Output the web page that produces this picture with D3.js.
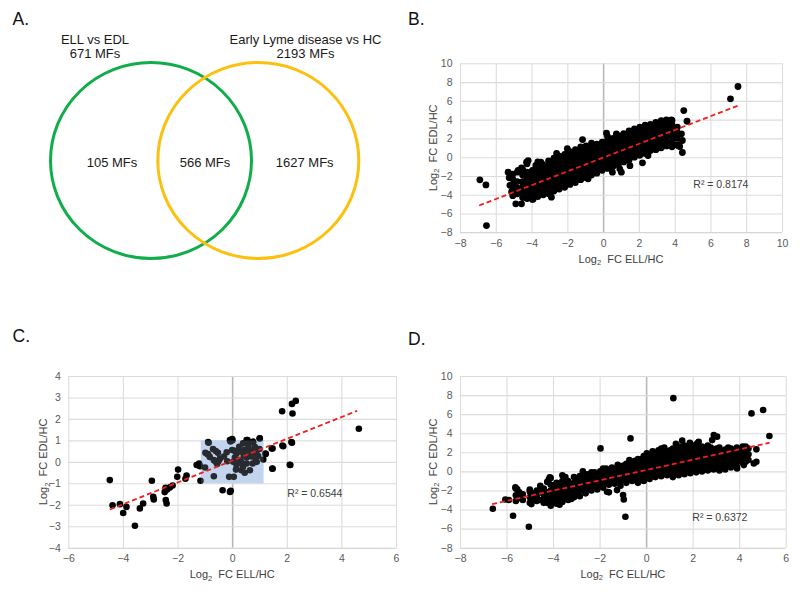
<!DOCTYPE html>
<html><head><meta charset="utf-8">
<script src="https://cdn.jsdelivr.net/npm/d3@7"></script>
<style>
body{margin:0;background:#fff}
svg{display:block}
text{font-family:"Liberation Sans",Arial,sans-serif}
</style>
</head><body>
<svg id="fig" width="800" height="594"></svg>
<script>
// ---------- data ----------
const panelLetters = ["A.", "B.", "C.", "D."];
const vennSetNames = ["ELL vs EDL", "Early Lyme disease vs HC"];
const vennSetTotals = ["671 MFs", "2193 MFs"];
const vennRegionLabels = ["105 MFs", "566 MFs", "1627 MFs"];

const xTitle = "ELL/HC";
const yTitle = "EDL/HC";

// Panel B
const bXTicks = [-8,-6,-4,-2,0,2,4,6,8,10];
const bYTicks = [-8,-6,-4,-2,0,2,4,6,8,10];
const bBandColumns = [
 [-5.05,[-4.1,-3.5,-2.9,-2.3,-1.8]],
 [-4.8,[-3.9,-3.3,-2.6,-1.6]],
 [-4.5,[-4.3,-3.7,-3.1,-2.6,-1.9,-1.3]],
 [-4.25,[-4.4,-3.8,-3.3,-2.8,-2.2,-1.6,-0.7]],
 [-3.95,[-4.5,-3.9,-3.4,-2.9,-2.4,-1.9,-1.4]],
 [-3.65,[-4.2,-3.7,-3.2,-2.7,-2.2,-1.7,-1.2,-0.5]],
 [-3.35,[-4.0,-3.5,-3.0,-2.5,-2.0,-1.5,-1.0]],
 [-3.05,[-3.9,-3.3,-2.8,-2.3,-1.8,-1.3,-0.8,-0.4]],
 [-2.75,[-3.6,-3.1,-2.6,-2.1,-1.6,-1.1,-0.6,-0.1]],
 [-2.45,[-3.4,-2.9,-2.4,-1.9,-1.4,-0.9,-0.4,0.1]],
 [-2.15,[-3.2,-2.6,-2.1,-1.6,-1.1,-0.6,-0.1,0.3]],
 [-1.85,[-2.9,-2.4,-1.9,-1.4,-0.9,-0.4,0.1,0.6]],
 [-1.55,[-2.7,-2.1,-1.6,-1.1,-0.6,-0.1,0.4,0.8]],
 [-1.25,[-2.4,-1.9,-1.4,-0.9,-0.4,0.1,0.6,1.1]],
 [-0.95,[-2.2,-1.7,-1.2,-0.7,-0.2,0.3,0.8,1.2]],
 [-0.65,[-1.9,-1.4,-0.9,-0.4,0.1,0.6,1.1,1.5]],
 [-0.35,[-1.7,-1.1,-0.6,-0.1,0.4,0.9,1.4]],
 [-0.05,[-1.4,-0.9,-0.4,0.1,0.6,1.1,1.6]],
 [0.25,[-1.2,-0.7,-0.2,0.3,0.8,1.3,1.8,2.2]],
 [0.55,[-1.0,-0.5,0.0,0.5,1.0,1.5,2.0]],
 [0.85,[-0.8,-0.2,0.3,0.8,1.3,1.8,2.3]],
 [1.15,[-0.5,0.0,0.5,1.0,1.5,2.0,2.5]],
 [1.45,[-0.3,0.3,0.8,1.3,1.8,2.3,2.8]],
 [1.75,[0.0,0.5,1.0,1.5,2.0,2.5,3.0]],
 [2.05,[0.2,0.7,1.2,1.7,2.2,2.7,3.2]],
 [2.35,[0.4,0.9,1.4,1.9,2.4,2.9,3.4]],
 [2.65,[0.7,1.1,1.6,2.1,2.6,3.1,3.5]],
 [2.95,[0.8,1.3,1.8,2.3,2.8,3.3,3.7]],
 [3.25,[1.0,1.5,2.0,2.5,3.0,3.5,3.9]],
 [3.55,[1.2,1.7,2.2,2.7,3.2,3.7]],
 [3.85,[1.1,1.6,2.2,2.8,3.4,3.9]],
 [4.15,[1.3,2.0,2.6,3.2]]
];
const bOutliers = [
 [-6.89,-2.41],[-6.55,-2.95],[-6.52,-7.28],[-4.88,-4.97],[-4.56,-4.97],[-1.15,1.88],
 [0.19,2.56],[0.74,2.48],[-5.31,-1.6],[-5.25,-2.2],[-5.21,-3.0],[-5.12,-3.7],
 [-4.75,-1.42],[-4.56,-1.14],[-4.28,-0.53],[-4.19,-0.36],[-3.48,-0.53],[-3.39,-0.78],
 [-2.89,-4.26],[-3.91,-4.44],[-4.0,-3.9],[0.52,-1.6],[0.93,-1.24],[1.02,-1.6],
 [7.12,6.22],[7.54,7.53],[4.51,4.97],[4.69,3.83],[3.82,3.98],[3.54,3.98],[3.35,3.73],
 [4.38,2.49],[4.43,1.78],[4.28,1.14],[3.95,2.49],[4.43,0.5],[4.19,1.25],[2.51,0.18],
 [-0.84,-2.3],[-1.30,-2.3],[-3.76,-0.88],[-2.6,0.4],[-2.0,0.9],[1.5,-0.9],[2.2,-0.6],[3.1,1.0]
];
const bTrend = [0.735, -0.05, -6.93, 7.54];   // slope, intercept, x from, x to
const bR2 = "R² = 0.8174";

// Panel C
const cXTicks = [-6,-4,-2,0,2,4,6];
const cYTicks = [-4,-3,-2,-1,0,1,2,3,4];
const cBox = [-1.15, 1.15, -1, 1];  // highlighted region x0,x1,y0,y1
const cPoints = [
 [-4.48,-0.85],[-2.94,-0.88],[-1.98,-0.36],[-2.01,-0.70],[-1.67,-0.64],[-1.71,-0.79],
 [-1.30,-0.15],[-1.21,-0.08],[-1.18,-0.2],[-1.16,-0.88],[-2.18,-1.1],[-2.28,-1.19],
 [-2.38,-1.29],[-2.47,-1.41],[-2.44,-1.21],[-2.89,-1.63],[-2.87,-1.75],[-2.43,-1.78],
 [-2.40,-1.94],[-3.26,-1.94],[-3.38,-2.17],[-3.87,-2.1],[-4.11,-1.97],[-4.38,-2.02],
 [-3.99,-2.38],[-3.56,-2.98],[-0.86,0.89],[-0.35,-1.32],[-0.08,-1.40],[-0.05,-1.35],
 [1.47,-0.31],[1.45,0.62],[1.22,0.39],[1.87,0.73],[2.19,0.89],[2.11,-0.14],
 [-0.08,1.01],[0.0,1.06],[0.56,1.01],[0.77,0.93],[1.01,1.1],[1.83,2.36],[2.21,2.25],
 [2.19,2.7],[2.33,2.84],[4.64,1.54],
 [-0.88,0.92],[-0.98,0.42],[-0.88,0.36],[-0.82,0.23],[-0.60,0.50],[-0.52,0.42],
 [-0.67,0.08],[-0.60,0.0],[-0.50,0.03],[-0.99,-0.26],[-0.67,-0.67],[-0.18,0.03],
 [-0.11,-0.70],[0.06,-0.70],[0.01,1.01],[-0.06,0.95],[0.10,0.51],[0.16,0.39],
 [0.04,0.0],[0.16,-0.15],[0.14,-0.36],[0.22,0.08],[0.26,0.70],[0.34,0.47],
 [0.40,0.86],[0.53,1.01],[0.59,0.78],[0.43,0.31],[0.53,0.20],[0.62,0.55],
 [0.71,0.42],[0.77,0.93],[0.83,0.70],[0.89,0.39],[0.95,0.27],[1.01,1.09],
 [0.86,0.11],[0.75,-0.08],[0.53,-0.08],[0.40,-0.23],[0.34,-0.39],[0.46,-0.51],
 [0.65,-0.39],[1.14,0.11],[1.23,0.36],[1.48,0.62],[1.48,-0.32],[1.84,0.76],
 [2.17,0.92],[2.13,-0.15],
 [-0.45,0.15],[-0.3,0.25],[0.3,0.1],[0.5,0.3],[0.7,0.25],[0.2,0.5],[-0.7,0.6],
 [-0.55,-0.1],[0.8,0.5],[0.6,0.65],[0.0,0.55],[-0.2,0.45],[0.35,-0.05],[0.9,0.0],
 [0.1,0.2],[-0.9,0.35],[1.0,0.6],[0.45,0.55]
];
const cTrend = [0.508, 0.054, -4.48, 4.58];
const cR2 = "R² = 0.6544";

// Panel D
const dXTicks = [-8,-6,-4,-2,0,2,4,6];
const dYTicks = [-8,-6,-4,-2,0,2,4,6,8,10];
const dBandColumns = [
 [-5.6,[-3.1,-2.5,-1.8]],
 [-5.3,[-3.0,-2.4]],
 [-5.0,[-3.3,-2.7,-2.1,-1.9]],
 [-4.7,[-3.1,-2.6,-2.0]],
 [-4.4,[-3.3,-2.9,-2.4,-1.8]],
 [-4.1,[-3.6,-3.0,-2.5,-2.0,-1.4,-0.7]],
 [-3.85,[-3.4,-2.9,-2.3,-1.8,-1.2]],
 [-3.6,[-3.2,-2.7,-2.2,-1.6,-1.0,-0.4]],
 [-3.35,[-3.0,-2.5,-2.0,-1.5,-1.0]],
 [-3.1,[-2.7,-2.2,-1.7,-1.2,-0.6]],
 [-2.85,[-2.6,-2.0,-1.5,-1.0,-0.5]],
 [-2.6,[-2.3,-1.8,-1.3,-0.8,-0.3]],
 [-2.35,[-2.0,-1.6,-1.1,-0.6,-0.1]],
 [-2.1,[-1.9,-1.4,-0.9,-0.4]],
 [-1.85,[-1.7,-1.2,-0.7,-0.2,0.3]],
 [-1.6,[-2.2,-1.4,-0.9,-0.4,0.1]],
 [-1.35,[-1.3,-0.8,-0.3,0.2]],
 [-1.1,[-1.5,-1.0,-0.5,0.0,0.5]],
 [-0.85,[-1.2,-0.7,-0.2,0.3,0.8]],
 [-0.6,[-1.0,-0.5,0.0,0.5,1.0]],
 [-0.35,[-1.2,-0.6,-0.1,0.4,0.9,1.3]],
 [-0.1,[-1.0,-0.4,0.1,0.6,1.1,1.6]],
 [0.15,[-0.8,-0.3,0.2,0.7,1.2,1.7]],
 [0.4,[-0.6,-0.1,0.4,0.9,1.4,1.9]],
 [0.65,[-0.5,0.0,0.5,1.0,1.5,2.0,2.4]],
 [0.9,[-0.4,0.1,0.6,1.1,1.6,2.1]],
 [1.15,[-0.6,-0.1,0.4,0.9,1.4,1.9,2.4]],
 [1.4,[-0.4,0.1,0.6,1.1,1.6,2.1,2.6]],
 [1.65,[-0.3,0.2,0.7,1.2,1.7,2.2,2.7]],
 [1.9,[-0.2,0.3,0.8,1.3,1.8,2.3,2.9]],
 [2.15,[-0.1,0.4,0.9,1.4,1.9,2.5]],
 [2.4,[0.0,0.5,1.0,1.5,2.0,2.6]],
 [2.65,[0.1,0.6,1.1,1.6,2.1,2.7]],
 [2.9,[0.2,0.7,1.2,1.7,2.2]],
 [3.15,[0.1,0.6,1.1,1.6,2.1,2.5]],
 [3.4,[0.2,0.7,1.2,1.7,2.3]],
 [3.65,[0.4,0.9,1.4,1.9,2.4]],
 [3.9,[0.5,1.0,1.5,2.0,2.5]],
 [4.15,[0.9,1.5,2.1,2.6]],
 [4.4,[1.2,1.8,2.4]],
 [-5.45,[-2.8,-2.2]],
 [-4.85,[-2.9,-2.3]],
 [-4.55,[-3.0,-2.2,-1.5]],
 [-4.25,[-3.3,-2.7,-2.2,-1.1]],
 [-3.97,[-3.2,-2.6,-2.0,-1.5]],
 [-3.72,[-3.5,-2.9,-2.4,-1.9,-1.3]],
 [-3.47,[-2.7,-2.2,-1.7,-1.2,-0.6]],
 [-3.22,[-2.9,-2.4,-1.9,-1.4]],
 [-2.97,[-2.3,-1.8,-1.2,-0.8]],
 [-2.72,[-2.0,-1.5,-1.0,-0.5,0.0]],
 [-2.47,[-1.8,-1.3,-0.8,-0.3]],
 [-2.22,[-1.6,-1.1,-0.6,-0.1]],
 [-1.97,[-1.5,-1.0,-0.5,0.0]],
 [-1.72,[-1.3,-0.7,-0.2,0.3]],
 [-1.47,[-1.1,-0.6,-0.1,0.4]],
 [-1.22,[-0.8,-0.3,0.2,0.7]],
 [-0.97,[-0.9,-0.4,0.1,0.6]],
 [-0.72,[-0.8,-0.2,0.3,0.8,1.2]],
 [-0.47,[-0.8,-0.3,0.2,0.7,1.1]],
 [-0.22,[-0.7,-0.2,0.3,0.8,1.3]],
 [0.03,[-0.6,-0.1,0.4,0.9,1.4,1.9]],
 [0.28,[-0.5,0.0,0.5,1.0,1.5,2.1]],
 [0.53,[-0.3,0.2,0.7,1.2,1.7,2.2]],
 [0.78,[-0.1,0.4,0.9,1.4,1.9,2.5]],
 [1.03,[-0.3,0.2,0.7,1.2,1.7,2.2]],
 [1.28,[-0.2,0.3,0.8,1.3,1.8,2.3,2.9]],
 [1.53,[0.0,0.5,1.0,1.5,2.0,2.5]],
 [1.78,[0.1,0.6,1.1,1.6,2.1,2.6]],
 [2.03,[0.2,0.7,1.2,1.7,2.2,2.7]],
 [2.28,[0.3,0.8,1.3,1.8,2.3]],
 [2.53,[0.3,0.8,1.3,1.8,2.4]],
 [2.78,[0.4,0.9,1.4,1.9,2.5]],
 [3.03,[0.4,0.9,1.4,1.9,2.4]],
 [3.28,[0.5,1.0,1.5,2.0]],
 [3.53,[0.6,1.1,1.6,2.1,2.5]],
 [3.78,[0.7,1.2,1.7,2.2]],
 [4.03,[1.2,1.8,2.3]],
 [4.28,[1.0,1.6,2.2,2.6]]
];
const dOutliers = [
 [-6.59,-3.92],[-5.72,-4.65],[-5.04,-5.80],[-6.05,-2.94],[-5.62,-1.68],[-5.54,-1.89],
 [-1.96,2.41],[-0.67,3.46],[-0.89,-4.76],[-0.99,-2.48],[-0.96,-2.94],[-1.25,-1.96],
 [-1.68,-2.13],[4.53,6.08],[5.03,6.43],[5.30,3.71],[4.74,2.31],[4.63,0.84],[4.74,1.01],
 [4.2,0.66],[3.84,0.84],[3.91,0.31],[2.91,3.81],[3.05,3.64],[2.26,3.11],[1.55,3.22],
 [-4.93,-3.43],[-4.14,-0.63],[-4.18,-0.84],[1.17,7.68],[1.88,3.0],[2.2,2.95],[2.84,3.28],
 [2.4,2.4],[-5.9,-3.0],[-4.5,-2.0]
];
const dTrend = [0.54, 0.14, -6.62, 5.30];
const dR2 = "R² = 0.6372";

// ---------- drawing ----------
const svg = d3.select("#fig");
const FONT = '"Liberation Sans",Arial,sans-serif';

function flatten(cols, extra){
  const pts = [];
  cols.forEach(([x, ys]) => ys.forEach(y => pts.push([x, y])));
  return pts.concat(extra);
}

function panelLabel(txt, x, y){
  svg.append("text").attr("x", x).attr("y", y).attr("font-size", 17.5)
    .attr("fill", "#111").text(txt);
}

function logTitle(sel, rest){
  sel.append("tspan").text("Log");
  sel.append("tspan").attr("font-size", 7.5).attr("dy", 2.5).text("2");
  sel.append("tspan").attr("dy", -2.5).text("\u00a0 FC " + rest);
}

function scatter(o){
  const g = svg.append("g");
  const x = d3.scaleLinear().domain(o.xDomain).range([o.left, o.right]);
  const y = d3.scaleLinear().domain(o.yDomain).range([o.bottom, o.top]);
  const H = o.bottom - o.top, W = o.right - o.left;

  const gx = g.append("g").attr("transform", `translate(0,${o.bottom})`)
    .call(d3.axisBottom(x).tickValues(o.xTicks).tickSize(-H).tickPadding(7.2).tickFormat(d3.format("d")));
  const gy = g.append("g").attr("transform", `translate(${o.left},0)`)
    .call(d3.axisLeft(y).tickValues(o.yTicks).tickSize(-W).tickPadding(7.5).tickFormat(d3.format("d")));
  [gx, gy].forEach(a => {
    a.select(".domain").remove();
    a.selectAll("text").attr("font-size", 10.5).attr("fill", "#595959").attr("font-family", FONT);
  });
  gy.selectAll(".tick line").attr("stroke", d => d === o.yDomain[0] ? "#c9c9c9" : "#dcdcdc").attr("stroke-width", 1.1);
  gx.selectAll(".tick line").attr("stroke", d => d === 0 ? "#b8b8b8" : "#dcdcdc").attr("stroke-width", d => d === 0 ? 1.6 : 1.1);
  gx.selectAll(".tick").filter(d => d === 0).raise();

  if (o.box){
    g.append("rect").attr("x", x(o.box[0])).attr("y", y(o.box[3]))
      .attr("width", x(o.box[1]) - x(o.box[0])).attr("height", y(o.box[2]) - y(o.box[3]))
      .attr("fill", "#c4d5ee");
  }

  g.append("g").selectAll("circle").data(o.points).join("circle")
    .attr("cx", d => x(d[0])).attr("cy", d => y(d[1])).attr("r", o.r).attr("fill", "#000");

  if (o.box){
    g.append("rect").attr("x", x(o.box[0])).attr("y", y(o.box[3]))
      .attr("width", x(o.box[1]) - x(o.box[0])).attr("height", y(o.box[2]) - y(o.box[3]))
      .attr("fill", "#c4d5ee").attr("opacity", 0.2);
  }

  const t = o.trend;
  const line = d3.line().x(d => x(d)).y(d => y(t[0] * d + t[1]));
  g.append("path").attr("d", line([t[2], t[3]])).attr("fill", "none")
    .attr("stroke", "#f01e1e").attr("stroke-width", 1.8).attr("stroke-dasharray", "5,3");

  g.append("text").attr("x", o.r2Pos[0]).attr("y", o.r2Pos[1]).attr("font-size", 10.5)
    .attr("fill", "#404040").text(o.r2);

  const xt = g.append("text").attr("x", (o.left + o.right) / 2).attr("y", o.xTitleY)
    .attr("text-anchor", "middle").attr("font-size", 11).attr("fill", "#404040");
  logTitle(xt, xTitle);
  const yt = g.append("text")
    .attr("transform", `translate(${o.yTitleX},${(o.top + o.bottom) / 2}) rotate(-90)`)
    .attr("text-anchor", "middle").attr("font-size", 11).attr("fill", "#404040");
  logTitle(yt, yTitle);
}

// Panel A: Venn
panelLabel(panelLetters[0], 12.5, 25);
const venn = svg.append("g");
const vennColors = ["#12ad4b", "#fcc010"];
const vennCenters = [151, 258.3];
vennCenters.forEach((cx, i) => {
  venn.append("ellipse").attr("cx", cx).attr("cy", 160.5).attr("rx", 100.5).attr("ry", 98)
    .attr("fill", "none").attr("stroke", vennColors[i]).attr("stroke-width", 3);
});
const topX = [95, 305.5];
vennSetNames.forEach((s, i) => {
  venn.append("text").attr("x", topX[i]).attr("y", 43.5).attr("text-anchor", "middle")
    .attr("font-size", 13).attr("fill", "#1a1a1a").text(s);
  venn.append("text").attr("x", topX[i]).attr("y", 57.5).attr("text-anchor", "middle")
    .attr("font-size", 13).attr("fill", "#1a1a1a").text(vennSetTotals[i]);
});
const regionX = [112, 205, 304.7];
vennRegionLabels.forEach((s, i) => {
  venn.append("text").attr("x", regionX[i]).attr("y", 166.8).attr("text-anchor", "middle")
    .attr("font-size", 13).attr("fill", "#1a1a1a").text(s);
});

// Panel B
panelLabel(panelLetters[1], 408, 25);
scatter({
  left: 460, right: 782, top: 63.3, bottom: 232.3,
  xDomain: [-8, 10], yDomain: [-8, 10], xTicks: bXTicks, yTicks: bYTicks,
  points: flatten(bBandColumns, bOutliers), r: 3.4, trend: bTrend,
  r2: bR2, r2Pos: [693.3, 187.7], xTitleY: 262.7, yTitleX: 436.5
});

// Panel C
panelLabel(panelLetters[2], 12.5, 341.7);
scatter({
  left: 68.3, right: 396, top: 376, bottom: 547.7,
  xDomain: [-6, 6], yDomain: [-4, 4], xTicks: cXTicks, yTicks: cYTicks,
  points: cPoints, r: 3.3, trend: cTrend, box: cBox,
  r2: cR2, r2Pos: [287.3, 497.3], xTitleY: 578, yTitleX: 47
});

// Panel D
panelLabel(panelLetters[3], 408, 345);
scatter({
  left: 460, right: 785.7, top: 376, bottom: 547.7,
  xDomain: [-8, 6], yDomain: [-8, 10], xTicks: dXTicks, yTicks: dYTicks,
  points: flatten(dBandColumns, dOutliers), r: 3.3, trend: dTrend,
  r2: dR2, r2Pos: [692.3, 521], xTitleY: 577.5, yTitleX: 436.5
});
</script>
</body></html>
